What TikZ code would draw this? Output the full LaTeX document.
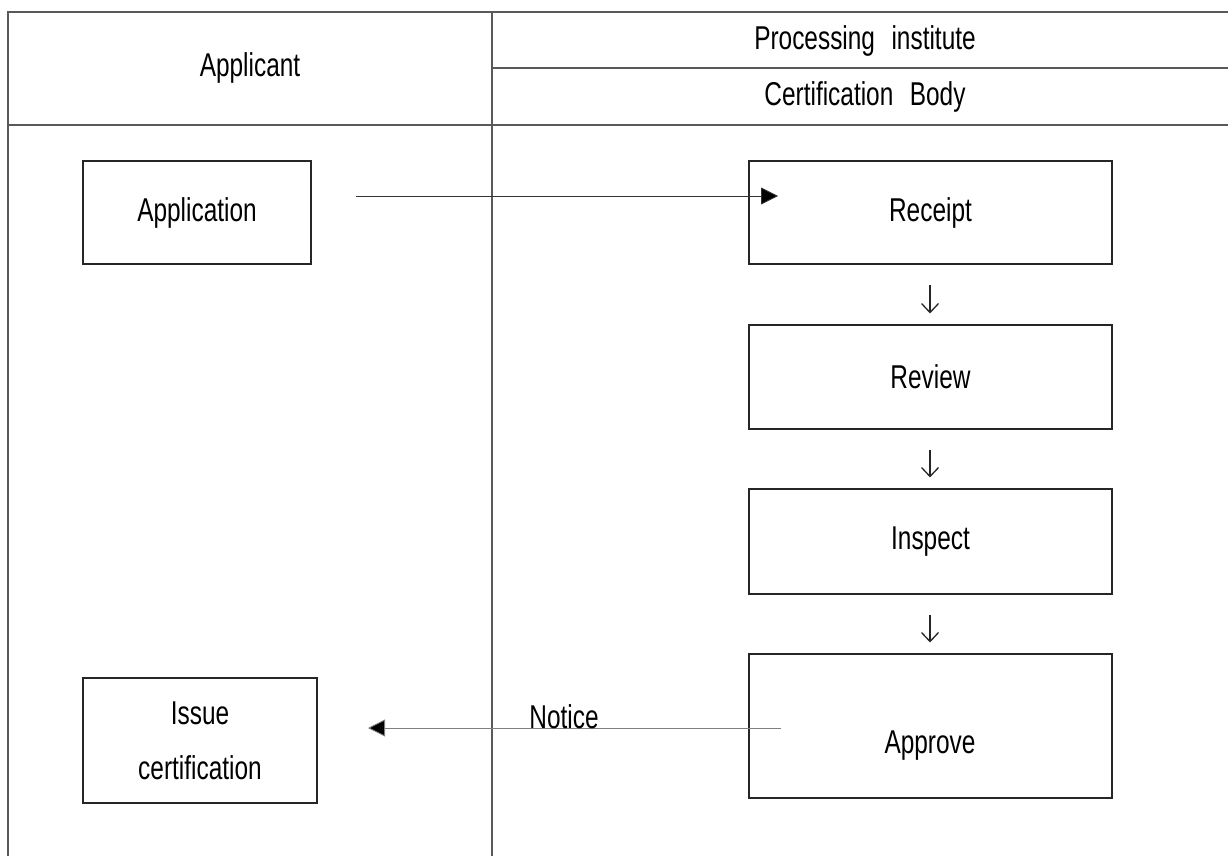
\documentclass[tikz,border=0pt]{standalone}
\usepackage{fontspec}
\setmainfont{Liberation Sans}[FakeStretch=0.74]
\usetikzlibrary{arrows.meta}
\begin{document}
\begin{tikzpicture}[x=1pt,y=-1pt,
  every node/.style={font=\fontsize{33}{55}\selectfont, inner sep=0pt},
  frame/.style={draw=black!65, line width=1.6pt},
  stage/.style={draw=black!85, line width=1.1pt, rectangle},
  flow/.style={line width=0.8pt, draw=black!80, -{Triangle[length=17pt,width=17pt,fill=black]}},
  back/.style={line width=0.9pt, draw=black!50, -{Triangle[length=17pt,width=17pt,fill=black]}},
  down/.style={line width=1.3pt, draw=black!85, -{Straight Barb[length=9pt,width=17pt]},
               shorten <=20pt, shorten >=11pt}
]
\useasboundingbox (0,0) rectangle (1228,856);

% swimlane frame
\draw[frame] (8,856) -- (8,12) -- (1228,12);
\draw[frame] (492,68) -- (1228,68);
\draw[frame] (8,125) -- (1228,125);
\draw[frame] (492,12) -- (492,856);

% lane headers
\node (applicant) at (250,68) {Applicant};
\node (institute) at (865,41) {Processing\hspace{0.5em}institute};
\node (body) at (865,97) {Certification\hspace{0.5em}Body};

% stages
\node[stage, minimum width=228pt, minimum height=103pt] (app) at (197,212.5) {Application};
\node[stage, minimum width=234pt, minimum height=125pt, align=center] (issue) at (200,740.5) {Issue\\certification};
\node[stage, minimum width=363pt, minimum height=103pt] (receipt) at (930.5,212.5) {Receipt};
\node[stage, minimum width=363pt, minimum height=104pt] (review) at (930.5,377) {Review};
\node[stage, minimum width=363pt, minimum height=105pt] (inspect) at (930.5,541.5) {Inspect};
\node[stage, minimum width=363pt, minimum height=144pt] (approve) at (930.5,726) {};
\node[anchor=base] (approvetext) at (930,753) {Approve};

% flow between lanes
\coordinate (appout) at (356,196);
\coordinate (recin) at (778,196);
\draw[flow] (appout) -- (recin);

\coordinate (approut) at (781,728);
\coordinate (issuein) at (368,728);
\draw[back] (approut) -- (issuein);
\node[anchor=base] (notice) at (564,728) {Notice};

% steps inside the certification body
\draw[down] (receipt.south -| 930,0) -- (review.north -| 930,0);
\draw[down] (review.south -| 930,0) -- (inspect.north -| 930,0);
\draw[down] (inspect.south -| 930,0) -- (approve.north -| 930,0);
\end{tikzpicture}
\end{document}
